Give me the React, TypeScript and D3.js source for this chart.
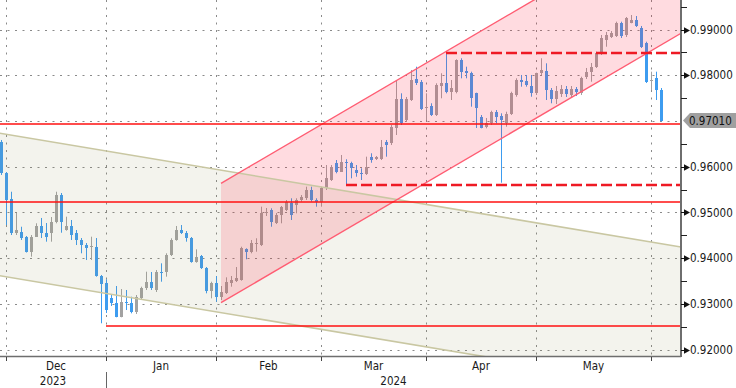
import React, { useEffect, useRef } from 'react';
import * as d3 from 'd3';

// daily candles, Nov 30 2023 .. Jun 5 2024 (index 0 = Nov 30)
const opens = [
  0.96547, 0.9587, 0.95295, 0.94552, 0.9458, 0.94471, 0.94143, 0.94471, 0.94705, 0.94545,
  0.94545, 0.94799, 0.95382, 0.94617, 0.94705, 0.94545, 0.94399, 0.94289, 0.94239, 0.94252,
  0.93612, 0.93452, 0.93137, 0.93015, 0.92722, 0.9305, 0.93028, 0.92831, 0.93124, 0.93342,
  0.93487, 0.93306, 0.93706, 0.93706, 0.94071, 0.94399, 0.94617, 0.94558, 0.94436, 0.93924,
  0.94049, 0.9378, 0.9329, 0.93452, 0.93159, 0.93233, 0.93452, 0.93502, 0.93524, 0.94202,
  0.94143, 0.94311, 0.94289, 0.94982, 0.95054, 0.94764, 0.94945, 0.95054, 0.95201, 0.95164,
  0.95273, 0.9531, 0.95492, 0.95273, 0.95236, 0.95529, 0.9571, 0.96075, 0.95892, 0.9611,
  0.96088, 0.95929, 0.9587, 0.95841, 0.96207, 0.96163, 0.96163, 0.96547, 0.96512, 0.9684,
  0.97474, 0.97022, 0.97459, 0.97911, 0.97859, 0.97278, 0.97328, 0.97131, 0.97765, 0.97837,
  0.9764, 0.9764, 0.98333, 0.981, 0.98043, 0.97605, 0.97094, 0.96862, 0.9695, 0.97203,
  0.97109, 0.9695, 0.97153, 0.97568, 0.97896, 0.97881, 0.97765, 0.97605, 0.98043, 0.981,
  0.97678, 0.97481, 0.9759, 0.97699, 0.97568, 0.97699, 0.97612, 0.97962, 0.98071, 0.98187,
  0.9848, 0.98771, 0.98843, 0.98858, 0.99136, 0.9888, 0.99149, 0.99208, 0.99026, 0.98699,
  0.97874, 0.97933, 0.97678,
];
const highs = [
  0.96585, 0.95885, 0.95454, 0.94989, 0.94689, 0.94486, 0.94508, 0.94764, 0.9488, 0.9477,
  0.94901, 0.95454, 0.95426, 0.94908, 0.94836, 0.94617, 0.94442, 0.94333, 0.94471, 0.94442,
  0.93634, 0.93539, 0.93196, 0.93393, 0.93327, 0.93306, 0.93159, 0.93196, 0.93378, 0.93706,
  0.93699, 0.93743, 0.93889, 0.94108, 0.94436, 0.94705, 0.94726, 0.94595, 0.94464, 0.94195,
  0.94071, 0.93808, 0.93487, 0.93612, 0.93393, 0.93583, 0.93612, 0.93808, 0.94252, 0.94217,
  0.94399, 0.94436, 0.95127, 0.95098, 0.95092, 0.94989, 0.95142, 0.95273, 0.9531, 0.9531,
  0.95382, 0.95564, 0.95564, 0.9531, 0.95564, 0.96038, 0.96038, 0.96147, 0.96257, 0.96163,
  0.9611, 0.96038, 0.95966, 0.9622, 0.96294, 0.96235, 0.96585, 0.96585, 0.96913, 0.97881,
  0.97605, 0.97525, 0.98115, 0.98187, 0.97896, 0.97605, 0.97387, 0.97824, 0.98043, 0.98515,
  0.97896, 0.98349, 0.98371, 0.98187, 0.98078, 0.97619, 0.97131, 0.97066, 0.97225, 0.9724,
  0.97168, 0.97203, 0.9764, 0.97933, 0.98006, 0.98006, 0.98006, 0.98056, 0.98371, 0.98261,
  0.97721, 0.97765, 0.97787, 0.97765, 0.97765, 0.97743, 0.97968, 0.98159, 0.98268, 0.98515,
  0.9888, 0.98946, 0.98967, 0.99171, 0.99171, 0.99273, 0.99317, 0.99295, 0.99077, 0.98733,
  0.98078, 0.98078, 0.97721,
];
const lows = [
  0.9582, 0.94726, 0.94508, 0.94508, 0.94399, 0.94125, 0.94034, 0.94464, 0.94442, 0.94362,
  0.94362, 0.94764, 0.94558, 0.94602, 0.94399, 0.94289, 0.94108, 0.93961, 0.93961, 0.93597,
  0.92578, 0.92803, 0.92956, 0.92709, 0.92709, 0.92868, 0.92796, 0.92781, 0.93109, 0.93306,
  0.93306, 0.93262, 0.93487, 0.93597, 0.94049, 0.94383, 0.9453, 0.94362, 0.93902, 0.93902,
  0.93765, 0.93233, 0.93124, 0.9305, 0.93087, 0.93218, 0.93378, 0.9348, 0.93509, 0.93977,
  0.94108, 0.94143, 0.94267, 0.94923, 0.94689, 0.94748, 0.94764, 0.95032, 0.94836, 0.94982,
  0.95236, 0.95273, 0.95236, 0.95127, 0.95127, 0.95492, 0.95688, 0.95857, 0.95885, 0.95601,
  0.95747, 0.95782, 0.9571, 0.9582, 0.96088, 0.96147, 0.96147, 0.9622, 0.96475, 0.96694,
  0.96913, 0.96978, 0.97437, 0.97787, 0.9724, 0.97022, 0.97109, 0.97109, 0.97496, 0.97605,
  0.97459, 0.97605, 0.97933, 0.97933, 0.97313, 0.96847, 0.9684, 0.9684, 0.96913, 0.9695,
  0.95651, 0.96875, 0.97131, 0.97531, 0.9775, 0.9775, 0.97531, 0.97568, 0.98006, 0.97459,
  0.97387, 0.97372, 0.97525, 0.97525, 0.97525, 0.97546, 0.97568, 0.97918, 0.97859, 0.98159,
  0.98443, 0.98624, 0.98814, 0.98836, 0.98814, 0.98836, 0.99136, 0.99055, 0.98596, 0.97831,
  0.97678, 0.97459, 0.96989,
];
const closes = [
  0.95857, 0.95273, 0.94545, 0.94617, 0.94436, 0.94143, 0.94471, 0.94705, 0.94545, 0.94471,
  0.94799, 0.95382, 0.94799, 0.94705, 0.94508, 0.94399, 0.94289, 0.94217, 0.94267, 0.93612,
  0.93437, 0.92868, 0.93015, 0.92722, 0.9305, 0.93015, 0.92831, 0.93159, 0.93342, 0.93487,
  0.93342, 0.93706, 0.93684, 0.94071, 0.94399, 0.94617, 0.94545, 0.94436, 0.93924, 0.94034,
  0.9378, 0.9329, 0.93452, 0.93153, 0.93268, 0.93487, 0.93524, 0.93568, 0.94217, 0.94143,
  0.9434, 0.9434, 0.94982, 0.95017, 0.94799, 0.94945, 0.95127, 0.95236, 0.94945, 0.95273,
  0.95345, 0.95492, 0.95273, 0.95236, 0.95529, 0.95747, 0.96001, 0.95892, 0.9611, 0.96075,
  0.95966, 0.95857, 0.95841, 0.96001, 0.96147, 0.96207, 0.96438, 0.96475, 0.96875, 0.97474,
  0.9695, 0.97474, 0.97896, 0.97824, 0.97256, 0.97313, 0.97131, 0.97787, 0.97837, 0.9764,
  0.97715, 0.98333, 0.98078, 0.98043, 0.97496, 0.97278, 0.9684, 0.9695, 0.97203, 0.97094,
  0.97022, 0.97153, 0.97605, 0.97896, 0.97859, 0.97787, 0.97605, 0.98043, 0.98115, 0.97678,
  0.97474, 0.97656, 0.9771, 0.9759, 0.97699, 0.97623, 0.97933, 0.98071, 0.98187, 0.9848,
  0.98808, 0.9888, 0.98917, 0.99136, 0.98858, 0.99245, 0.99208, 0.99077, 0.98624, 0.97859,
  0.97896, 0.97678, 0.9701,
];

// first trading day of each month (candle index)
const monthStarts = [1, 21, 43, 64, 85, 107, 130];
const monthLabels = ['Dec', 'Jan', 'Feb', 'Mar', 'Apr', 'May', 'Jun'];
const yearStarts = [-0.2, 21];
const yearLabels = ['2023', '2024'];
const priceTicks = [0.92, 0.93, 0.94, 0.95, 0.96, 0.97, 0.98, 0.99];
const minorTicks = [0.925, 0.935, 0.945, 0.955, 0.965, 0.975, 0.985, 0.995];
const lastPrice = 0.9701;

// drawn objects
const solidLevels = [0.96934, 0.95223];
const supportLine = { from: 21, value: 0.92525 };
const dashedLevels = [
  { from: 89, value: 0.98493 },
  { from: 69, value: 0.95594 },
];
const pinkChannel = { from: 44, to: 136, lowFrom: 0.93028, lowTo: 0.98917, width: 0.0261 };
const beigeChannel = { from: -1, to: 136, upFrom: 0.96746, upTo: 0.94246, width: 0.03113 };

const W = 736;
const H = 388;
const PLOT_R = 681;
const PLOT_B = 356;
const FONT = "'DejaVu Sans Condensed', 'Liberation Sans', Arial, sans-serif";

export default function App() {
  const svgRef = useRef<SVGSVGElement>(null);

  useEffect(() => {
    const svg = d3.select(svgRef.current);
    svg.selectAll('*').remove();

    const x = d3.scaleLinear().domain([0, 136]).range([1, PLOT_R]);
    const y = d3.scaleLinear().domain([0.91863, 0.99645]).range([PLOT_B, 0]);
    const crisp = (v: number) => Math.round(v) + 0.5;

    svg.append('rect').attr('width', W).attr('height', H).attr('fill', '#fff');

    svg
      .append('defs')
      .append('clipPath')
      .attr('id', 'plotClip')
      .append('rect')
      .attr('width', PLOT_R)
      .attr('height', PLOT_B);

    const plot = svg.append('g').attr('clip-path', 'url(#plotClip)');

    // grid
    plot
      .selectAll('line.hgrid')
      .data(priceTicks)
      .join('line')
      .attr('class', 'hgrid')
      .attr('x1', 0)
      .attr('x2', PLOT_R)
      .attr('y1', (d) => crisp(y(d)))
      .attr('y2', (d) => crisp(y(d)))
      .attr('stroke', '#8a8a8a')
      .attr('stroke-dasharray', '2 5.5');

    plot
      .selectAll('line.vgrid')
      .data(monthStarts)
      .join('line')
      .attr('class', 'vgrid')
      .attr('x1', (d) => crisp(x(d)))
      .attr('x2', (d) => crisp(x(d)))
      .attr('y1', 0)
      .attr('y2', PLOT_B)
      .attr('stroke', '#8a8a8a')
      .attr('stroke-dasharray', '2 5.5');

    // candles
    const candles = d3.range(opens.length).map((i) => ({
      i,
      o: opens[i],
      h: highs[i],
      l: lows[i],
      c: closes[i],
    }));
    const colorOf = (d: { o: number; c: number }) => (d.c >= d.o ? '#a2a2a2' : '#3d9cf0');

    const cg = plot.append('g');
    cg.selectAll('line.wick')
      .data(candles)
      .join('line')
      .attr('class', 'wick')
      .attr('x1', (d) => Math.round(x(d.i)) + 0.5)
      .attr('x2', (d) => Math.round(x(d.i)) + 0.5)
      .attr('y1', (d) => y(d.h))
      .attr('y2', (d) => y(d.l))
      .attr('stroke', colorOf)
      .attr('stroke-width', 1);

    cg.selectAll('rect.body')
      .data(candles)
      .join('rect')
      .attr('class', 'body')
      .attr('x', (d) => Math.round(x(d.i)) - 1)
      .attr('width', 3)
      .attr('y', (d) => Math.round(y(Math.max(d.o, d.c))))
      .attr('height', (d) =>
        Math.max(1, Math.round(y(Math.min(d.o, d.c))) - Math.round(y(Math.max(d.o, d.c))))
      )
      .attr('fill', colorOf);

    // channels (translucent overlays)
    const poly = d3.line<[number, number]>();
    const bc = beigeChannel;
    const beigePts: [number, number][] = [
      [x(bc.from), y(bc.upFrom)],
      [x(bc.to), y(bc.upTo)],
      [x(bc.to), y(bc.upTo - bc.width)],
      [x(bc.from), y(bc.upFrom - bc.width)],
    ];
    plot
      .append('path')
      .attr('d', poly(beigePts) + 'Z')
      .attr('fill', 'rgb(150,150,90)')
      .attr('fill-opacity', 0.11);

    const pc = pinkChannel;
    const pinkPts: [number, number][] = [
      [x(pc.from), y(pc.lowFrom)],
      [x(pc.to), y(pc.lowTo)],
      [x(pc.to), y(pc.lowTo + pc.width)],
      [x(pc.from), y(pc.lowFrom + pc.width)],
    ];
    plot
      .append('path')
      .attr('d', poly(pinkPts) + 'Z')
      .attr('fill', '#ff1f3d')
      .attr('fill-opacity', 0.16);

    // channel borders
    const border = (p: [number, number][], color: string, w: number) =>
      plot
        .append('path')
        .attr('d', poly(p))
        .attr('fill', 'none')
        .attr('stroke', color)
        .attr('stroke-width', w);
    border([beigePts[0], beigePts[1]], '#c9c7a2', 1.6);
    border([beigePts[3], beigePts[2]], '#c9c7a2', 1.6);
    border([pinkPts[0], pinkPts[1]], '#ff5c72', 1.4);
    border([pinkPts[3], pinkPts[2]], '#ff5c72', 1.4);

    // horizontal levels
    plot
      .selectAll('line.level')
      .data(solidLevels)
      .join('line')
      .attr('class', 'level')
      .attr('x1', 0)
      .attr('x2', PLOT_R)
      .attr('y1', (d) => Math.round(y(d)))
      .attr('y2', (d) => Math.round(y(d)))
      .attr('stroke', '#ff1010')
      .attr('stroke-width', 1.5);

    plot
      .append('line')
      .attr('x1', x(supportLine.from))
      .attr('x2', PLOT_R)
      .attr('y1', Math.round(y(supportLine.value)))
      .attr('y2', Math.round(y(supportLine.value)))
      .attr('stroke', '#ff1010')
      .attr('stroke-width', 1.5);

    plot
      .selectAll('line.dashed')
      .data(dashedLevels)
      .join('line')
      .attr('class', 'dashed')
      .attr('x1', (d) => x(d.from))
      .attr('x2', PLOT_R)
      .attr('y1', (d) => Math.round(y(d.value)))
      .attr('y2', (d) => Math.round(y(d.value)))
      .attr('stroke', '#ee1a24')
      .attr('stroke-width', 2.6)
      .attr('stroke-dasharray', '11 4');

    // axes
    svg
      .append('line')
      .attr('x1', PLOT_R)
      .attr('x2', PLOT_R)
      .attr('y1', 0)
      .attr('y2', PLOT_B + 1)
      .attr('stroke', '#6e6e6e')
      .attr('stroke-width', 2);
    svg
      .append('line')
      .attr('x1', 0)
      .attr('x2', PLOT_R)
      .attr('y1', PLOT_B + 0.5)
      .attr('y2', PLOT_B + 0.5)
      .attr('stroke', '#6e6e6e')
      .attr('stroke-width', 1.6);

    // right axis ticks
    svg
      .selectAll('line.minor')
      .data(minorTicks)
      .join('line')
      .attr('class', 'minor')
      .attr('x1', PLOT_R)
      .attr('x2', PLOT_R + 6)
      .attr('y1', (d) => crisp(y(d)))
      .attr('y2', (d) => crisp(y(d)))
      .attr('stroke', '#222');

    const major = priceTicks.filter((t) => Math.abs(t - lastPrice) > 0.002);
    svg
      .selectAll('path.major')
      .data(major)
      .join('path')
      .attr('class', 'major')
      .attr('d', (d) => {
        const yy = Math.round(y(d)) + 0.5;
        return `M${PLOT_R},${yy - 0.6}L${PLOT_R + 3},${yy - 0.6}L${PLOT_R + 3},${yy - 3.3}L${PLOT_R + 9},${yy}L${PLOT_R + 3},${yy + 3.3}L${PLOT_R + 3},${yy + 0.6}L${PLOT_R},${yy + 0.6}Z`;
      })
      .attr('fill', '#111');

    svg
      .selectAll('text.ylab')
      .data(major)
      .join('text')
      .attr('class', 'ylab')
      .attr('x', 690)
      .attr('y', (d) => y(d))
      .attr('dy', '0.36em')
      .attr('font-family', FONT)
      .attr('font-size', 11.5)
      .attr('fill', '#1a1a1a')
      .text((d) => d.toFixed(5));

    // last price marker
    const ly = y(lastPrice);
    svg
      .append('path')
      .attr(
        'd',
        `M${PLOT_R + 2},${ly}L${PLOT_R + 9},${ly - 7.5}L${W},${ly - 7.5}L${W},${ly + 7.5}L${PLOT_R + 9},${ly + 7.5}Z`
      )
      .attr('fill', '#a0a0a0');
    svg
      .append('text')
      .attr('x', 689)
      .attr('y', ly)
      .attr('dy', '0.36em')
      .attr('font-family', FONT)
      .attr('font-size', 11.5)
      .attr('fill', '#111')
      .text(lastPrice.toFixed(5));

    // bottom axis ticks and labels
    svg
      .selectAll('line.xtick')
      .data(monthStarts)
      .join('line')
      .attr('class', 'xtick')
      .attr('x1', (d) => crisp(x(d)))
      .attr('x2', (d) => crisp(x(d)))
      .attr('y1', PLOT_B + 1)
      .attr('y2', PLOT_B + 5)
      .attr('stroke', '#444');

    const monthCenters = monthStarts.slice(0, -1).map((m, k) => (x(m) + x(monthStarts[k + 1])) / 2);
    svg
      .selectAll('text.month')
      .data(monthCenters)
      .join('text')
      .attr('class', 'month')
      .attr('x', (d) => d)
      .attr('y', 370)
      .attr('text-anchor', 'middle')
      .attr('font-family', FONT)
      .attr('font-size', 11.5)
      .attr('fill', '#1a1a1a')
      .text((_, k) => monthLabels[k]);

    const yearEdges = [...yearStarts.map((s) => Math.max(0, x(s))), PLOT_R];
    svg
      .selectAll('text.year')
      .data(yearLabels)
      .join('text')
      .attr('class', 'year')
      .attr('x', (_, k) => (yearEdges[k] + yearEdges[k + 1]) / 2)
      .attr('y', 385)
      .attr('text-anchor', 'middle')
      .attr('font-family', FONT)
      .attr('font-size', 11.5)
      .attr('fill', '#1a1a1a')
      .text((d) => d);

    svg
      .append('line')
      .attr('x1', crisp(x(yearStarts[1])))
      .attr('x2', crisp(x(yearStarts[1])))
      .attr('y1', 372)
      .attr('y2', H)
      .attr('stroke', '#666');
  }, []);

  return (
    <svg
      ref={svgRef}
      width={W}
      height={H}
      style={{ position: 'absolute', left: 0, top: 0, display: 'block' }}
    />
  );
}
